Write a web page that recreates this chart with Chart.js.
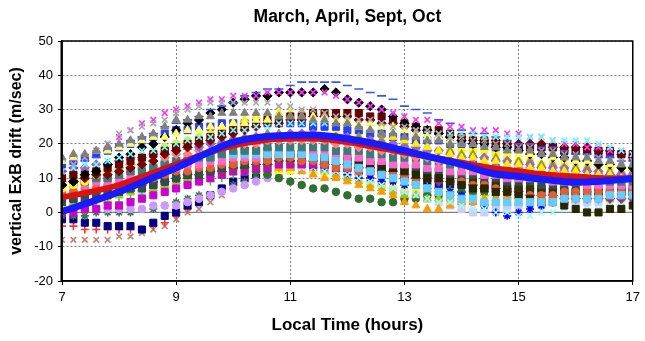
<!DOCTYPE html>
<html>
<head>
<meta charset="utf-8">
<script src="https://cdn.jsdelivr.net/npm/chart.js@4.4.0/dist/chart.umd.min.js"></script>
<style>
  html, body { margin: 0; padding: 0; background: #fff; }
</style>
</head>
<body>
<canvas id="chart" width="645" height="341"></canvas>
<script>
// Local time samples (hours) for the daily curves
const hours = [7, 7.2, 7.4, 7.6, 7.8, 8, 8.2, 8.4, 8.6, 8.8, 9, 9.2, 9.4, 9.6, 9.8,
  10, 10.2, 10.4, 10.6, 10.8, 11, 11.2, 11.4, 11.6, 11.8, 12, 12.2, 12.4, 12.6, 12.8,
  13, 13.2, 13.4, 13.6, 13.8, 14, 14.2, 14.4, 14.6, 14.8, 15, 15.2, 15.4, 15.6, 15.8,
  16, 16.2, 16.4, 16.6, 16.8, 17];
const halfHours = [7, 7.5, 8, 8.5, 9, 9.5, 10, 10.5, 11, 11.5, 12, 12.5, 13, 13.5, 14, 14.5, 15, 15.5, 16, 16.5, 17];
const xTicks = [7, 9, 11, 13, 15, 17];

// thick average curves
const redAverage = [4.4, 6, 8, 11, 14, 17, 19.5, 21, 21.5, 21.5, 20.5, 19, 17.5, 16, 14.5, 13, 12, 11, 10.5, 10, 10];
const blueAverage = [0.3, 3, 6, 9.5, 13, 17, 20.5, 22, 22.5, 22.5, 21.5, 20, 18, 16, 14, 11.5, 10.5, 9.5, 8.8, 9.2, 9.8];

// individual days (m/sec)
const grayTriangles = [16,17,17,18,19, 20,21,22,23,25, 27,27,28,28,29, 29,29,29,29,28, 28,28,27,27,26, 26,25,24,23,23, 22,22,21,21,20, 20,20,19,19,18, 18,18,17,17,16, 16,16,15,15,14, 14];
const grayCrosses = [12,14,16,18,20, 23,24,25,26,27, 29,30,31,32,32, 32,32,32,32,31, 31,30,30,29,28, 28,27,27,26,25, 25,24,24,23,22, 22,21,21,20,20, 19,19,18,18,17, 17,16,16,15,15, 15];
const magentaTop = [12,14,16,18,20, 22,24,26,27,29, 30,31,32,33,33, 34,34,34,35,35, 35,35,35,35,34, 33,32,31,30,29, 28,27,27,26,25, 25,24,24,24,23, 23,22,22,21,20, 20,19,19,18,18, 17];
const blackDiamonds = [8,9,11,12,14, 16,17,19,20,22, 24,26,27,29,30, 32,33,34,34,35, 35,35,35,36,35, 33,32,31,30,28, 26,25,24,23,22, 21,20,20,19,19, 18,17,17,16,16, 15,15,14,14,13, 13];
const blueDashes = [12,13,15,16,18, 19,21,22,23,25, 26,27,28,30,31, 32,34,35,36,36, 37,38,38,38,38, 37,36,35,34,33, 31,30,29,27,26, 24,23,23,22,21, 20,20,19,19,18, 17,17,16,16,15, 15];
const blueSquares = [14,15,16,17,18, 19,20,21,22,23, 24,24,25,25,26, 26,26,26,26,26, 26,26,25,25,25, 24,24,23,23,22, 22,21,21,21,20, 20,20,20,19,19, 19,19,19,19,18, 18,18,17,17,17, 16];
const yellowCircles = [7,8,9,11,12, 13,14,16,17,19, 20,21,22,23,24, 25,25,26,26,26, 26,26,25,25,24, 24,23,22,21,20, 19,19,18,18,18, 18,18,18,17,16, 15,15,14,14,14, 13,13,13,13,13, 12];
const yellowTriangles = [9,10,11,12,13, 14,15,16,18,19, 20,21,22,23,25, 26,27,28,28,29, 29,29,28,28,27, 26,25,24,23,22, 21,20,19,18,17, 16,16,15,15,14, 14,13,13,12,12, 12,11,11,11,10, 10];
const yellowLow = [2,2,3,4,4, 5,6,7,7,8, 9,10,10,11,11, 12,12,12,12,12, 12,12,12,11,11, 10,10,9,8,8, 7,7,6,6,5, 5,5,5,4,4, 4,4,4,4,4, 4,4,4,5,5, 5];
const maroonDiamonds = [8,9,10,11,11, 12,13,14,15,17, 18,19,20,21,22, 23,24,25,26,26, 27,27,28,28,28, 28,27,27,26,26, 25,24,24,23,22, 22,21,21,21,20, 20,20,20,19,19, 19,19,18,18,17, 16];
const navySquares = [-2,-2,-3,-3,-4, -4,-4,-5,-3,-1, 0,2,3,5,7, 9,10,11,12,13, 13,14,14,13,13, 13,12,12,11,10, 10,9,9,8,8, 8,7,7,7,6, 6,6,6,5,5, 5,5,5,5,6, 6];
const rosyCrosses = [-8,-8,-8,-8,-8, -7,-7,-6,-5,-4, -2,0,1,3,5, 7,8,9,10,11, 12,12,12,11,11, 11,10,10,9,8, 8,7,7,6,6, 5,5,5,4,4, 4,4,4,3,3, 3,3,3,3,3, 3];
const redPlus = [-4,-4,-5,-5,-5, -5,-5,-5,-4,-3, -1,1,3,5,7, 8,9,10,11,12, 13,13,13,12,12, 12,11,10,9,9, 8,7,6,6,5, 4,4,3,3,3, 3,3,3,3,3, 3,3,4,4,4, 4];
const lavenderCircles = [1,1,1,1,1, 1,1,1,2,2, 2,3,4,5,6, 7,8,9,10,11, 13,13,13,12,12, 11,10,9,8,7, 6,5,5,4,4, 3,3,2,2,2, 2,2,2,3,3, 3,3,4,4,4, 5];
const lilacSquares = [3,3,4,4,5, 5,6,6,7,8, 8,9,10,10,11, 12,12,13,13,13, 13,13,12,12,11, 10,10,9,8,7, 6,5,4,3,2, 1,0,0,1,1, 2,2,2,3,3, 3,3,3,4,4, 4];
const greenCircles = [5,5,6,6,7, 7,8,8,9,9, 10,10,11,12,12, 13,13,12,11,10, 9,8,7,7,6, 5,4,4,3,3, 4,4,5,5,5, 6,6,6,6,7, 7,7,7,7,7, 6,6,6,6,6, 6];
const orangeTriangles = [6,7,7,8,8, 9,10,10,11,11, 12,12,13,13,14, 14,14,14,14,13, 13,12,11,10,10, 9,8,7,6,5, 3,2,1,1,2, 3,3,4,4,5, 5,5,5,5,5, 5,5,5,5,5, 5];
const blackSquares = [8,9,9,10,10, 11,12,13,13,14, 15,15,16,16,17, 17,18,18,18,17, 17,17,16,16,15, 15,14,14,13,13, 12,11,10,10,9, 8,7,7,6,6, 5,4,3,3,2, 1,0,0,1,1, 2];
const tealSquares = [8,9,9,10,10, 11,12,12,13,14, 15,15,16,16,17, 18,18,18,19,19, 19,19,19,19,18, 18,18,17,17,16, 16,16,15,15,14, 14,14,13,13,12, 12,12,11,11,11, 10,10,10,9,9, 9];
const skySquares = [10,10,11,11,12, 13,13,14,14,15, 15,16,16,16,17, 17,17,17,17,17, 17,17,16,16,15, 14,13,12,11,10, 9,8,7,6,5, 4,4,3,3,3, 3,3,3,3,4, 4,4,4,5,5, 5];
const cyanCrosses = [12,13,14,14,15, 16,17,18,18,19, 20,21,22,22,23, 24,24,25,25,26, 26,26,26,26,26, 26,25,25,25,24, 24,24,23,23,23, 23,23,22,22,22, 22,22,22,21,21, 21,21,20,19,18, 17];
const paleCyanCrosses = [6,6,7,7,8, 8,9,9,10,11, 11,12,12,13,13, 14,14,14,14,14, 14,13,13,12,12, 11,10,9,8,7, 6,5,4,3,3, 2,1,1,0,0, -1,-1,0,0,1, 1,1,1,2,2, 2];
const limeTriangles = [3,3,4,4,5, 5,6,7,7,8, 9,10,10,11,12, 13,13,14,14,15, 15,14,13,12,11, 10,9,8,7,6, 5,5,4,4,4, 3,3,3,3,3, 3,3,3,3,3, 4,4,4,4,5, 5];
const plumDiamonds = [5,5,6,6,7, 7,8,8,9,9, 10,11,11,12,12, 13,13,14,14,15, 15,15,15,14,14, 14,13,13,12,12, 11,10,10,9,9, 8,8,7,7,6, 6,5,5,5,4, 4,4,4,4,4, 4];
const salmonDiamonds = [9,10,11,11,12, 13,14,14,15,16, 17,17,18,18,19, 20,20,20,21,21, 21,21,21,21,20, 20,19,19,18,18, 17,16,16,15,15, 14,14,14,13,13, 13,13,13,12,12, 12,12,11,11,11, 11];
const coralCircles = [6,6,7,7,8, 8,9,10,10,11, 12,12,13,13,14, 14,15,15,15,16, 16,15,15,14,13, 13,12,12,11,11, 11,10,10,10,9, 9,8,8,7,6, 5,5,5,5,6, 6,6,6,6,6, 6];
const blueStars = [6,6,7,7,8, 8,8,9,10,10, 11,11,12,12,13, 13,13,13,14,14, 14,14,13,13,12, 11,10,10,9,9, 8,8,7,7,6, 5,4,2,0,-1, 0,1,2,3,3, 4,4,4,5,5, 5];
const oliveTriangles = [11,12,13,13,14, 15,16,16,17,18, 19,19,20,21,21, 22,22,22,23,23, 23,23,23,22,22, 22,22,21,21,20, 20,19,19,18,18, 17,17,16,16,15, 15,15,14,14,13, 13,13,12,12,12, 12];
const darkRedSquares = [10,11,11,12,13, 14,15,16,17,18, 19,20,21,22,23, 24,25,26,27,27, 28,28,29,29,29, 29,29,28,28,27, 26,25,24,24,23, 22,21,21,20,20, 19,19,19,19,18, 18,18,18,18,17, 17];
const pinkSquares = [7,8,8,9,9, 10,11,11,12,12, 13,14,14,15,15, 16,16,16,17,17, 17,17,17,17,16, 16,16,15,15,14, 14,14,13,13,12, 12,12,11,11,10, 10,10,10,9,9, 9,8,8,8,8, 8];
const slateSquares = [3,4,4,5,5, 6,7,7,8,9, 10,11,11,12,13, 14,14,15,16,16, 17,17,17,16,16, 16,15,15,14,14, 13,13,12,12,11, 11,11,10,10,9, 9,9,8,8,8, 7,7,7,7,7, 7];
const purpleDiamonds = [12,13,13,14,14, 15,16,16,17,17, 18,19,19,20,20, 21,21,22,22,22, 23,23,23,22,22, 22,21,21,20,20, 19,19,18,18,17, 16,16,16,15,15, 14,14,13,13,13, 12,12,12,11,11, 11];
const greenPlus = [1,1,2,2,3, 3,4,5,5,6, 7,8,9,9,10, 11,12,12,13,13, 14,14,13,13,13, 13,12,11,11,10, 9,9,8,7,7, 6,6,6,5,5, 5,5,5,5,5, 5,5,5,6,6, 6];
const oliveSquares = [4,4,5,5,6, 6,7,8,8,9, 10,11,11,12,13, 14,14,15,15,16, 16,16,16,15,15, 15,14,14,13,13, 12,12,11,10,10, 9,9,8,8,7, 7,7,7,6,6, 6,6,6,6,6, 6];
const paleYellowTriangles = [15,16,17,18,18, 19,20,21,22,22, 23,24,24,25,25, 26,26,27,27,28, 28,28,28,28,27, 27,26,26,25,25, 24,23,22,22,21, 20,20,19,19,18, 17,17,17,16,16, 15,15,15,14,14, 14];
const magentaSquares = [0,0,1,1,2, 2,3,4,5,6, 7,8,9,10,11, 12,12,13,13,14, 14,14,14,14,13, 13,13,12,12,11, 11,11,10,10,9, 9,8,8,8,7, 7,7,7,6,6, 6,6,6,6,7, 7];
const darkGreenStars = [-1,-1,-1,0,0, 0,0,1,1,2, 3,4,5,5,6, 8,9,10,11,12, 13,13,13,12,12, 11,10,10,9,9, 8,8,7,7,6, 6,5,5,5,4, 4,4,4,4,4, 4,4,4,4,5, 5];

// [values, colour, marker]
const days = [
  [grayTriangles, '#7f7f7f', 'triangle'],
  [grayCrosses, '#a6a6a6', 'crossRot'],
  [paleYellowTriangles, '#ffff66', 'triangle'],
  [cyanCrosses, '#66ffff', 'crossRot'],
  [magentaTop, '#ff33ff', 'crossRot'],
  [blueDashes, '#3355ff', 'line'],
  [blackDiamonds, '#000000', 'rectRot'],
  [darkRedSquares, '#660000', 'rect'],
  [maroonDiamonds, '#800000', 'rectRot'],
  [yellowTriangles, '#ffee00', 'triangle'],
  [purpleDiamonds, '#9966cc', 'rectRot'],
  [oliveTriangles, '#999933', 'triangle'],
  [blueSquares, '#2a3cff', 'rect'],
  [yellowCircles, '#ffff00', 'circle'],
  [salmonDiamonds, '#ff8080', 'rectRot'],
  [tealSquares, '#3a7a7a', 'rect'],
  [skySquares, '#66ccff', 'rect'],
  [pinkSquares, '#ff66cc', 'rect'],
  [blackSquares, '#262600', 'rect'],
  [coralCircles, '#e06030', 'circle'],
  [slateSquares, '#2f4f4f', 'rect'],
  [oliveSquares, '#333300', 'rect'],
  [plumDiamonds, '#993366', 'rectRot'],
  [magentaSquares, '#cc00cc', 'rect'],
  [paleCyanCrosses, '#99ffff', 'crossRot'],
  [orangeTriangles, '#ff9900', 'triangle'],
  [blueStars, '#0000ff', 'star'],
  [limeTriangles, '#99cc00', 'triangle'],
  [greenCircles, '#2f6f2f', 'circle'],
  [greenPlus, '#33cc33', 'cross'],
  [yellowLow, '#ffff00', 'triangle'],
  [lilacSquares, '#ccccff', 'rect'],
  [lavenderCircles, '#cc99ff', 'circle'],
  [darkGreenStars, '#3b7350', 'star'],
  [navySquares, '#000080', 'rect'],
  [redPlus, '#ff3333', 'cross'],
  [rosyCrosses, '#c08070', 'crossRot'],
];

const markerSize = { circle: 3.8, rect: 5, rectRot: 4.6, triangle: 4.6, cross: 4, crossRot: 4, star: 4, line: 4.5 };
const lineMarkers = ['cross', 'crossRot', 'star', 'line'];
const datasets = days.map(([vals, color, marker], i) => ({
  type: 'scatter',
  data: hours.map((h, j) => ({ x: h, y: vals[j] })),
  showLine: false,
  pointStyle: marker,
  pointRadius: markerSize[marker],
  pointBackgroundColor: color,
  pointBorderColor: color,
  pointBorderWidth: lineMarkers.includes(marker) ? 1.6 : 1,
  order: 2 + i
}));

datasets.push({
  type: 'line',
  data: halfHours.map((h, j) => ({ x: h, y: redAverage[j] })),
  borderColor: '#dd1111',
  borderWidth: 6,
  pointRadius: 0,
  tension: 0.4,
  order: 1
});
datasets.push({
  type: 'line',
  data: halfHours.map((h, j) => ({ x: h, y: blueAverage[j] })),
  borderColor: '#1a1aff',
  borderWidth: 7,
  pointRadius: 0,
  tension: 0.4,
  order: 0
});

const font = 'Liberation Sans, Arial, sans-serif';

// zero line under the marks, black frame over them
const frame = {
  id: 'frame',
  beforeDatasetsDraw(chart) {
    const { ctx, chartArea: a, scales: { y } } = chart;
    const y0 = y.getPixelForValue(0);
    ctx.save();
    ctx.strokeStyle = '#808080';
    ctx.lineWidth = 1.2;
    ctx.beginPath();
    ctx.moveTo(a.left, y0);
    ctx.lineTo(a.right, y0);
    ctx.stroke();
    ctx.restore();
  },
  afterDatasetsDraw(chart) {
    const { ctx, chartArea: a } = chart;
    ctx.save();
    ctx.strokeStyle = '#000';
    ctx.lineWidth = 1.5;
    ctx.strokeRect(a.left, a.top, a.right - a.left, a.bottom - a.top);
    ctx.fillStyle = '#000';
    ctx.fillRect(a.left - 1.5, a.top, 2, a.bottom - a.top);
    ctx.restore();
  }
};

new Chart(document.getElementById('chart'), {
  type: 'scatter',
  data: { datasets },
  options: {
    responsive: false,
    animation: false,
    layout: { padding: { left: 0, right: 8, top: 0, bottom: 0 } },
    plugins: {
      legend: { display: false },
      tooltip: { enabled: false },
      title: {
        display: true,
        fullSize: false,
        text: 'March, April, Sept, Oct',
        color: '#000',
        font: { family: font, size: 17.5, weight: 'bold' },
        padding: { top: 7, bottom: 13 }
      }
    },
    scales: {
      x: {
        type: 'linear',
        min: 7,
        max: 17,
        afterFit: s => { s.height = 60; },
        afterBuildTicks: s => { s.ticks = xTicks.map(v => ({ value: v })); },
        ticks: { color: '#000', font: { family: font, size: 13 }, padding: 5, maxRotation: 0 },
        grid: { color: '#808080', tickColor: '#000', tickLength: 4 },
        border: { color: '#000', width: 1.5, dash: [2, 2] },
        title: {
          display: true,
          text: 'Local Time (hours)',
          color: '#000',
          font: { family: font, size: 17, weight: 'bold' },
          padding: { top: 0, bottom: 5 }
        }
      },
      y: {
        min: -20,
        max: 50,
        afterFit: s => { s.width = 62; },
        ticks: { stepSize: 10, color: '#000', font: { family: font, size: 13 }, padding: 5 },
        grid: { color: '#808080', tickColor: '#000', tickLength: 4 },
        border: { color: '#000', width: 1.5, dash: [2, 2] },
        title: {
          display: true,
          text: 'vertical ExB drift (m/sec)',
          color: '#000',
          font: { family: font, size: 16, weight: 'bold' },
          padding: { top: 7, bottom: 0 }
        }
      }
    }
  },
  plugins: [frame]
});
</script>
</body>
</html>
